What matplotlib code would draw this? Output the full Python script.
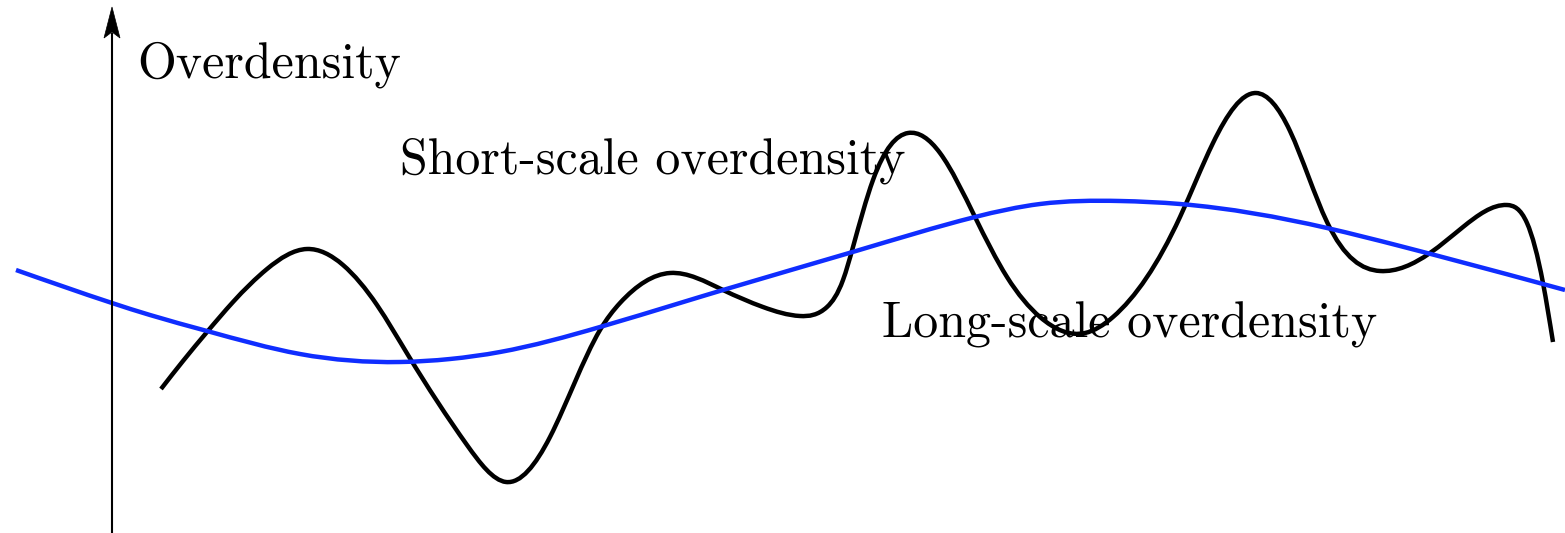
import numpy as np
import matplotlib
matplotlib.use("Agg")
import matplotlib.pyplot as plt
from matplotlib.path import Path
from matplotlib.patches import PathPatch, Polygon

# Short-scale (small-wavelength) density fluctuation: sample positions and heights
short_x = [161, 183, 207, 233, 267, 307, 343, 377, 408, 467, 506, 550,
           600, 620, 670, 723, 763, 800, 827, 843, 853, 873, 908, 940, 975,
           1007, 1040, 1085, 1113, 1180, 1213, 1256, 1290, 1327, 1380, 1430,
           1463, 1507, 1527, 1543, 1553]
short_y = [144, 172, 201, 231, 264, 284, 268, 228, 178, 88, 51, 96,
           203, 230, 260, 243, 226, 217, 226, 253, 286, 353, 400, 380, 316,
           256, 216, 200, 216, 316, 390, 440, 402, 311, 262, 280,
           306, 328, 310, 250, 191]

# Long-scale (large-wavelength) density mode
long_x = [16, 112, 150, 207, 300, 400, 450, 500, 600, 680, 723, 856, 975,
          1040, 1120, 1180, 1327, 1400, 1543, 1565]
long_y = [263, 230, 218, 202, 179, 171, 174, 181, 206, 230, 243, 282, 316,
          329, 332, 329, 305, 287, 249, 243]

label_axis = "Overdensity"
label_short = "Short-scale overdensity"
label_long = "Long-scale overdensity"

W, H = 1565, 533


def spline_slopes(x, y):
    """Knot slopes of the natural cubic spline through (x, y)."""
    x = np.asarray(x, float)
    y = np.asarray(y, float)
    n = len(x)
    h = np.diff(x)
    d = np.diff(y) / h
    A = np.zeros((n, n))
    b = np.zeros(n)
    A[0, 0], A[0, 1], b[0] = 2.0, 1.0, 3 * d[0]
    A[-1, -2], A[-1, -1], b[-1] = 1.0, 2.0, 3 * d[-1]
    for i in range(1, n - 1):
        A[i, i - 1] = h[i]
        A[i, i] = 2 * (h[i - 1] + h[i])
        A[i, i + 1] = h[i - 1]
        b[i] = 3 * (h[i] * d[i - 1] + h[i - 1] * d[i])
    return np.linalg.solve(A, b)


def smooth_path(x, y):
    """Cubic Bezier path following the spline through the samples."""
    x = np.asarray(x, float)
    y = np.asarray(y, float)
    m = spline_slopes(x, y)
    verts = [(x[0], y[0])]
    codes = [Path.MOVETO]
    for i in range(len(x) - 1):
        h = x[i + 1] - x[i]
        verts += [(x[i] + h / 3, y[i] + m[i] * h / 3),
                  (x[i + 1] - h / 3, y[i + 1] - m[i + 1] * h / 3),
                  (x[i + 1], y[i + 1])]
        codes += [Path.CURVE4] * 3
    return Path(verts, codes)


plt.rcParams["font.family"] = "cmr10"
plt.rcParams["axes.unicode_minus"] = False

fig = plt.figure(figsize=(W / 100, H / 100), dpi=100)
ax = fig.add_axes([0, 0, 1, 1])
ax.set_xlim(0, W)
ax.set_ylim(0, H)
ax.axis("off")

# vertical axis with stealth-style arrow head
ax.plot([112, 112], [0, 500], color="black", lw=1.5, solid_capstyle="butt")
ax.add_patch(Polygon([(112, 526), (104, 495), (112, 501), (120, 495)],
                     closed=True, facecolor="black", edgecolor="black", lw=0.5))

ax.add_patch(PathPatch(smooth_path(short_x, short_y), facecolor="none",
                       edgecolor="black", lw=3.2, capstyle="butt"))
ax.add_patch(PathPatch(smooth_path(long_x, long_y), facecolor="none",
                       edgecolor="#0f2dff", lw=3.2, capstyle="butt"))

ax.text(137, H - 78, label_axis, fontsize=36, va="baseline", ha="left")
ax.text(400, H - 173, label_short, fontsize=36, va="baseline", ha="left")
ax.text(882, H - 338, label_long, fontsize=36, va="baseline", ha="left")

fig.savefig("out.png", dpi=100)
